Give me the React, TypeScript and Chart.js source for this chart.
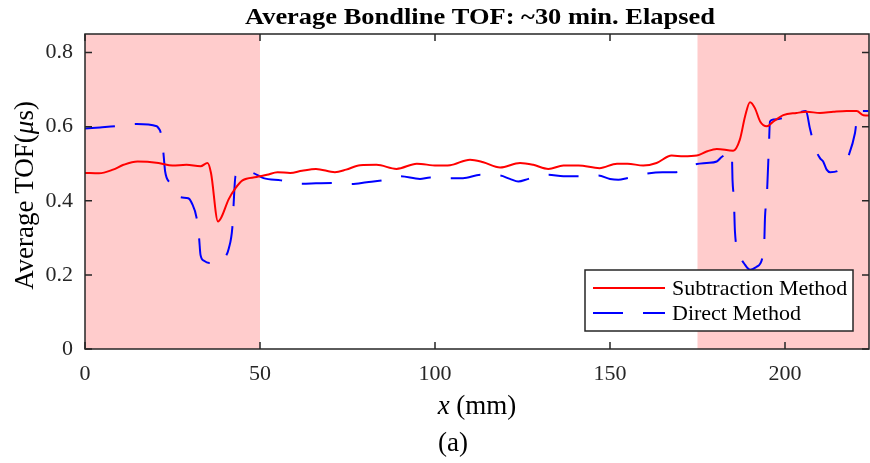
import React, { useEffect, useRef } from "react";
import { Chart, registerables } from "chart.js";

Chart.register(...registerables);

// ---- data ----
const titleText = "Average Bondline TOF: ~30 min. Elapsed";
const seriesLabels = ["Subtraction Method", "Direct Method"];
const xTicks = [0, 50, 100, 150, 200];
const yTicks = [0, 0.2, 0.4, 0.6, 0.8];
const shadedRanges = [
  [0, 50],
  [175, 225],
];

const xSub = [
  0, 4, 8, 11, 15, 21, 25, 29, 33, 35, 36, 38, 39, 41, 43, 45, 49, 52, 55, 58.6,
  62, 66, 71.4, 74.6, 78.6, 83.3, 89, 94.8, 100.5, 104.3, 110, 113.8, 118.6,
  124.3, 128.1, 132.4, 136.7, 141, 147, 152, 155, 159.5, 163.3, 167.6, 171,
  174.8, 177.6, 180.5, 185.2, 187.1, 188.6, 190, 191.4, 192.9, 194.8, 196.7,
  199.5, 203.3, 206.2, 210, 213.8, 217.6, 220.5, 222.4, 224.3,
];
const ySub = [
  0.475, 0.474, 0.484, 0.497, 0.506, 0.502, 0.495, 0.497, 0.493, 0.502, 0.475,
  0.344, 0.356, 0.403, 0.434, 0.455, 0.464, 0.47, 0.477, 0.475, 0.481, 0.486,
  0.477, 0.484, 0.496, 0.497, 0.486, 0.5, 0.495, 0.496, 0.511, 0.504, 0.49,
  0.502, 0.497, 0.486, 0.495, 0.495, 0.488, 0.5, 0.5, 0.495, 0.502, 0.522, 0.52,
  0.522, 0.533, 0.54, 0.535, 0.565, 0.628, 0.666, 0.65, 0.614, 0.601, 0.614,
  0.631, 0.637, 0.64, 0.637, 0.64, 0.642, 0.642, 0.631, 0.63,
];

const xDir = [
  0, 4.3, 8.6, 14.8, 20.5, 21, 21.7, 22.4, 22.9, 24.3, 27.1, 29.5, 30.5, 31.9,
  32.6, 33, 34, 35.5, 37.5, 40, 41.1, 42.1, 42.4, 43, 45.5, 48, 51, 56, 62, 66,
  70.5, 76, 80.5, 84.8, 90, 95.7, 98.6, 104.3, 108, 113, 118.6, 121.4, 123.8,
  126.7, 132.4, 136.7, 141, 146.7, 150, 152.4, 154.8, 160.5, 165, 168.6, 174.8,
  177.6, 180.5, 181.9, 184.8, 185, 185.4, 185.7, 186.7, 188.6, 190, 191.9, 194,
  194.3, 194.8, 195.4, 195.7, 196.7, 200, 203, 206, 207.1, 208.6, 210, 210.9,
  211.9, 212.9, 215, 217.3, 218.1, 220, 220.9, 223.8,
];
const yDir = [
  0.595, 0.598, 0.601, 0.607, 0.601, 0.596, 0.581, 0.529, 0.479, 0.448, 0.41,
  0.407, 0.394, 0.353, 0.299, 0.254, 0.238, 0.232, 0.232, 0.247, 0.272, 0.328,
  0.38, 0.466, 0.48, 0.475, 0.461, 0.455, 0.446, 0.447, 0.448, 0.445, 0.45,
  0.455, 0.466, 0.459, 0.463, 0.461, 0.461, 0.47, 0.468, 0.459, 0.452, 0.459,
  0.47, 0.466, 0.466, 0.468, 0.459, 0.457, 0.461, 0.473, 0.477, 0.477, 0.499,
  0.502, 0.506, 0.518, 0.533, 0.457, 0.403, 0.317, 0.263, 0.227, 0.214, 0.222,
  0.272, 0.358, 0.412, 0.547, 0.614, 0.619, 0.625, 0.635, 0.642, 0.596, 0.542,
  0.515, 0.506, 0.484, 0.477, 0.48, 0.504, 0.52, 0.583, 0.642, 0.642,
];

const SERIF = "'Liberation Serif', 'Times New Roman', serif";
const AXIS_COLOR = "#262626";
const RED = "rgb(255,0,0)";
const BLUE = "rgb(0,0,255)";
const DASH = [30, 20];

function drawSegments(
  ctx: CanvasRenderingContext2D,
  segs: { t: string; font: string }[],
  cx: number,
  y: number,
  targetWidth?: number
) {
  let total = 0;
  const widths = segs.map((s) => {
    ctx.font = s.font;
    const w = ctx.measureText(s.t).width;
    total += w;
    return w;
  });
  const sx = targetWidth ? targetWidth / total : 1;
  ctx.save();
  ctx.translate(cx, y);
  ctx.scale(sx, 1);
  let x = -total / 2;
  segs.forEach((s, i) => {
    ctx.font = s.font;
    ctx.fillText(s.t, x, 0);
    x += widths[i];
  });
  ctx.restore();
}

const decor = {
  id: "decor",
  beforeDatasetsDraw(chart: any) {
    const { ctx, chartArea: a } = chart;
    const xs = chart.scales.x;
    ctx.save();
    ctx.fillStyle = "#FFCCCC";
    for (const [s, e] of shadedRanges) {
      const x0 = Math.max(a.left, xs.getPixelForValue(s));
      const x1 = Math.min(a.right, xs.getPixelForValue(e));
      ctx.fillRect(x0, a.top, x1 - x0, a.bottom - a.top);
    }
    ctx.restore();
  },
  afterDatasetsDraw(chart: any) {
    const { ctx, chartArea: a } = chart;
    const xs = chart.scales.x;
    const ys = chart.scales.y;
    ctx.save();
    ctx.strokeStyle = AXIS_COLOR;
    ctx.lineWidth = 1.5;
    ctx.strokeRect(a.left, a.top, a.right - a.left, a.bottom - a.top);
    const tl = 7;
    ctx.beginPath();
    for (const v of xTicks) {
      const px = xs.getPixelForValue(v);
      ctx.moveTo(px, a.bottom);
      ctx.lineTo(px, a.bottom - tl);
      ctx.moveTo(px, a.top);
      ctx.lineTo(px, a.top + tl);
    }
    for (const v of yTicks) {
      const py = ys.getPixelForValue(v);
      ctx.moveTo(a.left, py);
      ctx.lineTo(a.left + tl, py);
      ctx.moveTo(a.right, py);
      ctx.lineTo(a.right - tl, py);
    }
    ctx.stroke();

    // legend
    const lw = 268;
    const lh = 61;
    const lx = a.right - 16 - lw;
    const ly = a.bottom - 18 - lh;
    ctx.fillStyle = "#ffffff";
    ctx.fillRect(lx, ly, lw, lh);
    ctx.lineWidth = 1.5;
    ctx.strokeStyle = AXIS_COLOR;
    ctx.strokeRect(lx, ly, lw, lh);
    const rows = [
      { label: seriesLabels[0], color: RED, dash: [] as number[] },
      { label: seriesLabels[1], color: BLUE, dash: DASH },
    ];
    rows.forEach((r, i) => {
      const yy = ly + 18 + i * 25;
      ctx.save();
      ctx.strokeStyle = r.color;
      ctx.lineWidth = 2;
      ctx.setLineDash(r.dash);
      ctx.beginPath();
      ctx.moveTo(lx + 8, yy);
      ctx.lineTo(lx + 80, yy);
      ctx.stroke();
      ctx.restore();
      ctx.fillStyle = "#000";
      ctx.font = `22px ${SERIF}`;
      ctx.textBaseline = "middle";
      ctx.textAlign = "left";
      ctx.fillText(r.label, lx + 87, yy + 1);
    });
    ctx.restore();
  },
  afterDraw(chart: any) {
    const { ctx, chartArea: a } = chart;
    ctx.save();
    ctx.fillStyle = "#000";
    ctx.textAlign = "left";
    ctx.textBaseline = "alphabetic";
    // title
    drawSegments(ctx, [{ t: titleText, font: `bold 24px ${SERIF}` }], 480, 24, 470);
    // x title
    drawSegments(
      ctx,
      [
        { t: "x", font: `italic 27px ${SERIF}` },
        { t: " (mm)", font: `27px ${SERIF}` },
      ],
      477,
      414
    );
    // panel label
    drawSegments(ctx, [{ t: "(a)", font: `27px ${SERIF}` }], 453, 451);
    // y title
    ctx.save();
    ctx.translate(33, (a.top + a.bottom) / 2 + 4);
    ctx.rotate(-Math.PI / 2);
    drawSegments(
      ctx,
      [
        { t: "Average TOF(", font: `27px ${SERIF}` },
        { t: "\u03bc", font: `italic 27px ${SERIF}` },
        { t: "s)", font: `27px ${SERIF}` },
      ],
      0,
      0
    );
    ctx.restore();
    ctx.restore();
  },
};

export default function App() {
  const ref = useRef<HTMLCanvasElement | null>(null);
  useEffect(() => {
    if (!ref.current) return;
    const chart = new Chart(ref.current, {
      type: "line",
      data: {
        datasets: [
          {
            label: seriesLabels[0],
            data: xSub.map((x, i) => ({ x, y: ySub[i] })),
            borderColor: RED,
            borderWidth: 2,
            pointRadius: 0,
            fill: false,
            cubicInterpolationMode: "monotone",
          },
          {
            label: seriesLabels[1],
            data: xDir.map((x, i) => ({ x, y: yDir[i] })),
            borderColor: BLUE,
            borderWidth: 2,
            borderDash: DASH,
            pointRadius: 0,
            fill: false,
            cubicInterpolationMode: "monotone",
          },
        ],
      },
      options: {
        responsive: false,
        animation: false,
        layout: { padding: { top: 34, right: 1, left: 0, bottom: 0 } },
        plugins: {
          legend: { display: false },
          title: { display: false },
          tooltip: { enabled: false },
        },
        scales: {
          x: {
            type: "linear",
            min: 0,
            max: 224,
            grid: { display: false, drawTicks: false },
            border: { display: false },
            afterBuildTicks: (s: any) => {
              s.ticks = xTicks.map((v) => ({ value: v }));
            },
            afterFit: (s: any) => {
              s.height = 114;
            },
            ticks: {
              padding: 12,
              maxRotation: 0,
              color: AXIS_COLOR,
              font: { family: SERIF, size: 22 },
              callback: (v: any) => String(v),
            },
          },
          y: {
            type: "linear",
            min: 0,
            max: 0.85,
            grid: { display: false, drawTicks: false },
            border: { display: false },
            afterBuildTicks: (s: any) => {
              s.ticks = yTicks.map((v) => ({ value: v }));
            },
            afterFit: (s: any) => {
              s.width = 85;
            },
            ticks: {
              padding: 12,
              color: AXIS_COLOR,
              font: { family: SERIF, size: 22 },
              callback: (v: any) => String(v),
            },
          },
        },
      },
      plugins: [decor],
    } as any);
    return () => chart.destroy();
  }, []);
  return (
    <div style={{ position: "absolute", left: 0, top: 0, width: 870, height: 463, background: "#fff" }}>
      <canvas ref={ref} width={870} height={463} style={{ width: 870, height: 463, display: "block" }} />
    </div>
  );
}
